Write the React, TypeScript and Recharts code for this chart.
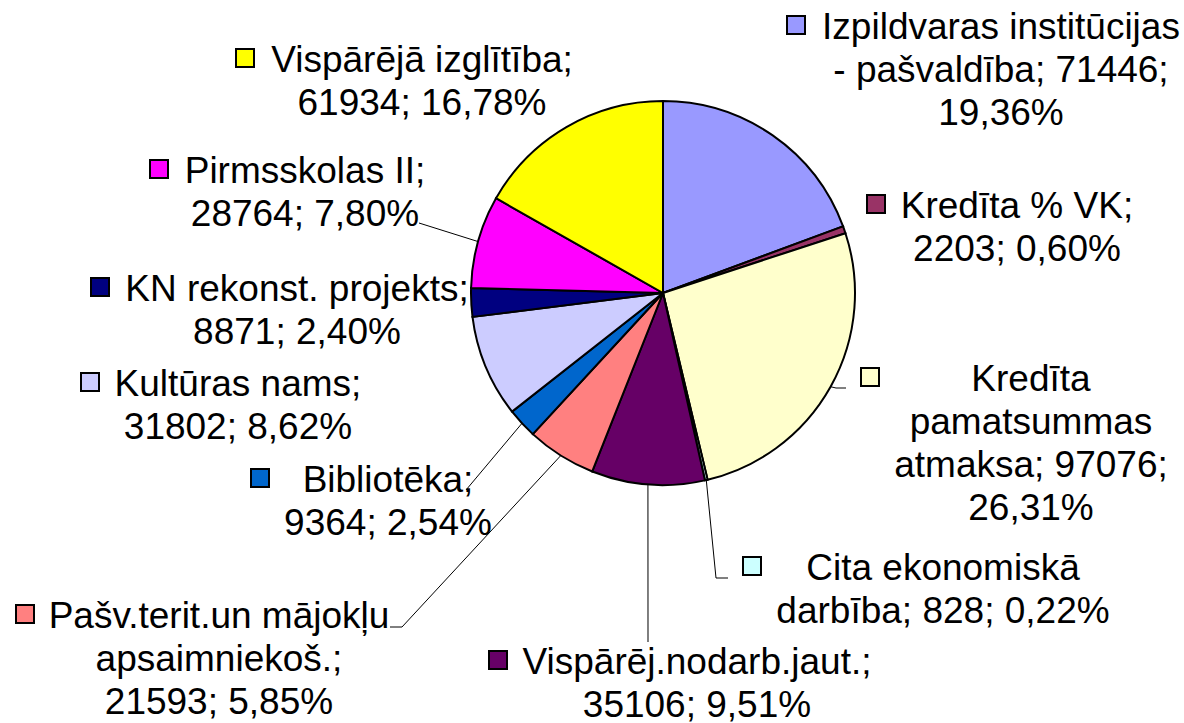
import React from 'react';
import { PieChart, Pie, Cell } from 'recharts';

const categories: string[] = [
  'Izpildvaras institūcijas - pašvaldība',
  'Kredīta % VK',
  'Kredīta pamatsummas atmaksa',
  'Cita ekonomiskā darbība',
  'Vispārēj.nodarb.jaut.',
  'Pašv.terit.un mājokļu apsaimniekoš.',
  'Bibliotēka',
  'Kultūras nams',
  'KN rekonst. projekts',
  'Pirmsskolas II',
  'Vispārējā izglītība',
];
const values: number[] = [71446, 2203, 97076, 828, 35106, 21593, 9364, 31802, 8871, 28764, 61934];
const colors: string[] = [
  '#9999FF', '#993366', '#FFFFCC', '#CCFFFF', '#660066', '#FF8080',
  '#0066CC', '#CCCCFF', '#000080', '#FF00FF', '#FFFF00',
];
// words per label line
const lineBreaks: number[][] = [
  [2, 3, 1], [3, 2], [1, 1, 2, 1], [2, 3], [1, 2], [2, 1, 2], [1, 2], [2, 2], [3, 2], [2, 2], [2, 2],
];

// label layout: legend-key left x, text centre x, first baseline y, leader line points after the slice edge
const labelLayout: { keyX: number; textX: number; y: number; leader: number[][] }[] = [
  { keyX: 786, textX: 1001, y: 39, leader: [] },
  { keyX: 866, textX: 1017, y: 218, leader: [] },
  { keyX: 860, textX: 1031, y: 391, leader: [[836, 388], [846, 388]] },
  { keyX: 742, textX: 943, y: 580, leader: [[716, 578], [728, 578]] },
  { keyX: 488, textX: 697, y: 674, leader: [[648, 642]] },
  { keyX: 15, textX: 219, y: 628, leader: [[402, 627], [390, 627]] },
  { keyX: 250, textX: 388, y: 492, leader: [[466, 490]] },
  { keyX: 80, textX: 238, y: 396, leader: [] },
  { keyX: 90, textX: 297, y: 301, leader: [] },
  { keyX: 149, textX: 305, y: 183, leader: [[419, 223]] },
  { keyX: 235, textX: 422, y: 72, leader: [] },
];

const total = values.reduce((a, b) => a + b, 0);
const data = categories.map((name, i) => ({ name, value: values[i] }));

const FONT = '"Liberation Sans", Arial, sans-serif';
const FONT_SIZE = 37;
const LINE_H = 43;

const fmtPct = (v: number) => ((v / total) * 100).toFixed(2).replace('.', ',') + '%';

const renderLabel = (props: any) => {
  const { cx, cy, midAngle, outerRadius, index } = props;
  const L = labelLayout[index];
  const rad = Math.PI / 180;
  const ex = cx + outerRadius * Math.cos(-midAngle * rad);
  const ey = cy + outerRadius * Math.sin(-midAngle * rad);
  const words = `${categories[index]}; ${values[index]}; ${fmtPct(values[index])}`.split(' ');
  const lines: string[] = [];
  let p = 0;
  for (const n of lineBreaks[index]) {
    lines.push(words.slice(p, p + n).join(' '));
    p += n;
  }
  const pts = [[ex, ey], ...L.leader].map((q) => q.join(',')).join(' ');
  return (
    <g key={`lbl-${index}`}>
      {L.leader.length > 0 && (
        <polyline points={pts} fill="none" stroke="#000" strokeWidth={1} />
      )}
      <rect x={L.keyX + 1} y={L.y - 23} width={18} height={18} fill={colors[index]} stroke="#000" strokeWidth={2} />
      <text x={L.textX} y={L.y} textAnchor="middle" fontSize={FONT_SIZE} fontFamily={FONT} fill="#000">
        {lines.map((ln, i) => (
          <tspan key={i} x={L.textX} y={L.y + i * LINE_H}>
            {ln}
          </tspan>
        ))}
      </text>
    </g>
  );
};

export default function App() {
  return (
    <div style={{ position: 'absolute', left: 0, top: 0, width: 1184, height: 723, background: '#fff' }}>
      <PieChart width={1184} height={723} margin={{ top: 0, right: 0, bottom: 0, left: 0 }}>
        <Pie
          data={data}
          dataKey="value"
          nameKey="name"
          cx={663}
          cy={293}
          outerRadius={192}
          startAngle={90}
          endAngle={-270}
          stroke="#000"
          strokeWidth={2}
          isAnimationActive={false}
          labelLine={false}
          label={renderLabel}
        >
          {data.map((d, i) => (
            <Cell key={d.name} fill={colors[i]} />
          ))}
        </Pie>
      </PieChart>
    </div>
  );
}
